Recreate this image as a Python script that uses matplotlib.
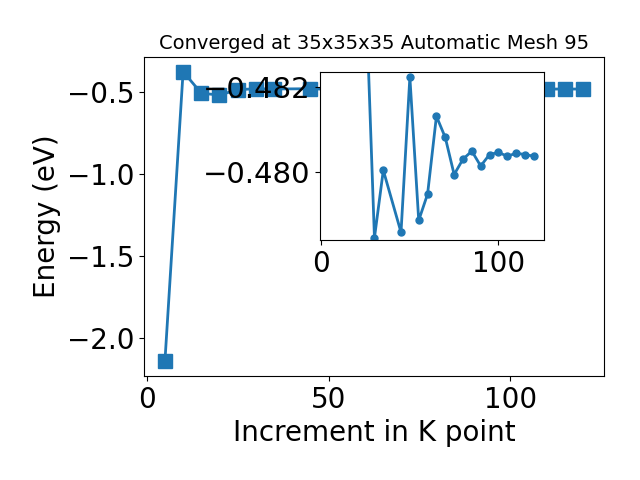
import matplotlib
matplotlib.use('Agg')
import matplotlib.pyplot as plt

kpoints = [5, 10, 15, 20, 25, 30, 35, 45, 50, 55, 60, 65, 70, 75, 80,
           85, 90, 95, 100, 105, 110, 115, 120]
energy = [-2.142, -0.374, -0.506, -0.517, -0.48436, -0.47846, -0.48005,
          -0.47859, -0.48224, -0.47887, -0.47949, -0.48132, -0.48082,
          -0.47995, -0.48031, -0.48050, -0.48015, -0.48042, -0.48047,
          -0.48038, -0.48045, -0.48042, -0.48038]

fig = plt.figure(figsize=(6.4, 4.8), dpi=100)
ax = fig.add_subplot(111)
fig.subplots_adjust(left=0.225, right=0.944, top=0.881, bottom=0.217)

ax.plot(kpoints, energy, marker='s', markersize=10, linewidth=2)
ax.set_xlabel('Increment in K point', fontsize=20)
ax.set_ylabel('Energy (eV)', fontsize=20)
ax.tick_params(labelsize=20)
ax.set_title('Converged at 35x35x35 Automatic Mesh 95', fontsize=14)

# zoomed view of the converged part
ins = fig.add_axes([0.5, 0.5, 0.35, 0.35])
ins.plot(kpoints[4:], energy[4:], marker='o', markersize=5, linewidth=2)
ins.set_xlim(ax.get_xlim())
ins.set_ylim(-0.47841, -0.48236)
ins.set_xticks([0, 100])
ins.set_yticks([-0.482, -0.480])
ins.tick_params(axis='x', labelsize=20)
ins.tick_params(axis='y', labelsize=21)

fig.savefig('out.png')
